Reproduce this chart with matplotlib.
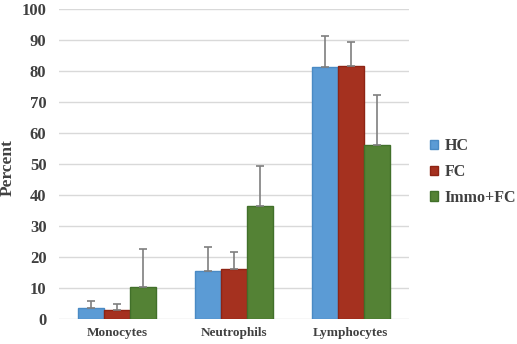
import matplotlib
matplotlib.use("Agg")
import matplotlib.pyplot as plt
import numpy as np

categories = ["Monocytes", "Neutrophils", "Lymphocytes"]
series = ["HC", "FC", "Immo+FC"]
hc = [3.5, 15.4, 81.4]
fc = [3.0, 16.0, 81.6]
immo = [10.4, 36.5, 56.0]
hc_err = [2.4, 7.9, 9.8]
fc_err = [1.7, 5.6, 7.7]
immo_err = [12.3, 13.0, 16.3]

colors = ["#5B9BD5", "#A5311F", "#548235"]
edges = ["#4A8AC4", "#8E2414", "#41702A"]

plt.rcParams['font.family'] = ['Liberation Serif', 'DejaVu Serif']
plt.rcParams['font.weight'] = 'bold'

fig = plt.figure(figsize=(5.17, 3.44), dpi=100)
ax = fig.add_axes([59/517, 1-319/344, 350/517, 310/344])

x = np.arange(len(categories))
w = 0.222
vals = [hc, fc, immo]
errs = [hc_err, fc_err, immo_err]
for i, (v, e) in enumerate(zip(vals, errs)):
    ax.bar(x + (i - 1) * w, v, w, color=colors[i], edgecolor=edges[i], linewidth=1.0,
           label=series[i], zorder=3)
    ax.errorbar(x + (i - 1) * w, v, yerr=[np.zeros(len(e)), e], fmt='none',
                ecolor='#7F7F7F', elinewidth=1.2, capsize=3, capthick=1.2, zorder=4)

ax.set_xlim(-0.5, 2.5)
ax.set_ylim(0, 100)
ax.set_yticks(range(0, 101, 10))
ax.set_xticks(x)
ax.set_xticklabels(categories, fontsize=9.5, fontweight='bold', color='#404040')
ax.tick_params(axis='y', labelsize=12, colors='#404040', length=0, pad=9)
ax.tick_params(axis='x', length=0, pad=6)
ax.grid(axis='y', color='#D9D9D9', linewidth=1, zorder=0)
for s in ax.spines.values():
    s.set_visible(False)
ax.set_ylabel("Percent", fontsize=12.5, fontweight='bold', color='#404040')
ax.yaxis.set_label_coords(-43/350, 0.487)

leg = ax.legend(loc='center left', bbox_to_anchor=(1.06, 0.474), frameon=False,
                fontsize=11.5, handlelength=0.5, handleheight=0.5, handletextpad=0.4,
                labelspacing=0.6, borderaxespad=0, borderpad=0)
for t in leg.get_texts():
    t.set_color('#404040')

fig.savefig("out.png", dpi=100)
